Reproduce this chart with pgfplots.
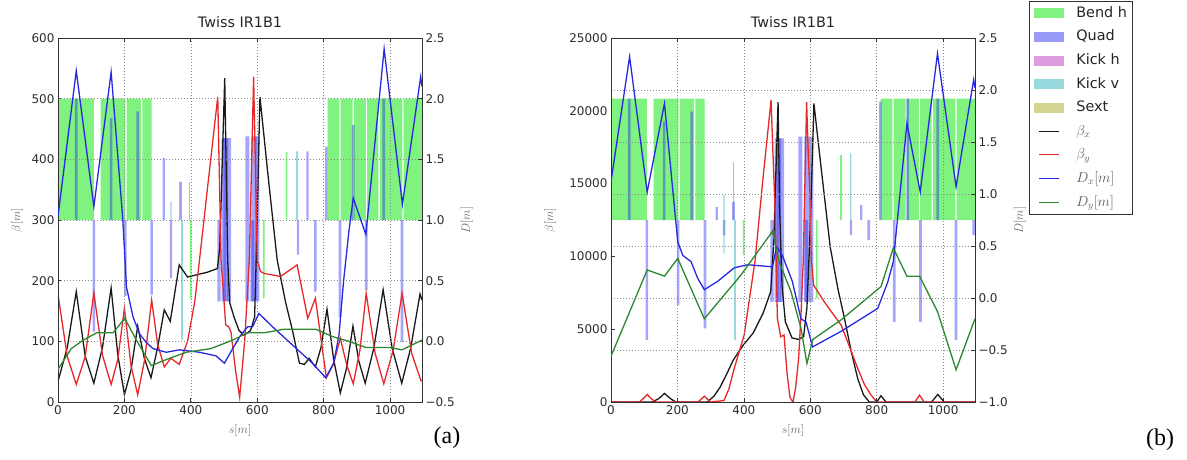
\documentclass[border=0pt]{standalone}
\usepackage{fontspec}
\setmainfont{DejaVu Sans}
\newfontfamily\tnr{Liberation Serif}
\usepackage{pgfplots}
\pgfplotsset{compat=1.18}

\definecolor{bendc}{RGB}{128,242,128}
\definecolor{quadc}{RGB}{30,30,245}
\definecolor{kickhc}{RGB}{190,60,190}
\definecolor{kickvc}{RGB}{50,180,190}
\definecolor{sextc}{RGB}{170,170,40}
\definecolor{bxc}{RGB}{25,25,25}
\definecolor{byc}{RGB}{232,40,40}
\definecolor{dxc}{RGB}{40,40,225}
\definecolor{dyc}{RGB}{45,135,45}
\definecolor{spine}{RGB}{50,50,50}
\definecolor{tlc}{RGB}{45,45,45}
\definecolor{lblc}{RGB}{100,100,100}

\pgfplotsset{
  twissbase/.style={
    scale only axis, width=364pt, height=364pt,
    xmin=0, xmax=1096, scaled x ticks=false, scaled y ticks=false,
    tick align=inside, major tick length=4pt,
    axis line style={spine, line width=0.9pt},
    every tick/.style={spine, line width=0.7pt},
    tick label style={font=\fontsize{12}{12}\selectfont, text=tlc},
  },
  leftax/.style={twissbase,
    xtick={0,200,400,600,800,1000}, xticklabels={0,200,400,600,800,1000},
    xtick pos=both, xticklabel pos=left, ytick pos=left, yticklabel pos=left,
    xlabel={$s[m]$},
    every axis x label/.style={at={(axis description cs:0.5,-0.077)}, anchor=center, font=\fontsize{13}{13}\selectfont, text=lblc},
    title={Twiss IR1B1},
    title style={font=\fontsize{14.4}{14.4}\selectfont, text=black!85, at={(0.5,1)}, anchor=base, yshift=5pt, inner sep=0pt},
    ylabel={$\beta[m]$},
  },
  rightax/.style={twissbase,
    xtick={0,200,400,600,800,1000}, xticklabels={},
    ytick pos=right, yticklabel pos=right,
    xmajorgrids, ymajorgrids,
    grid style={dash pattern=on 1pt off 2pt, black!45, line width=0.6pt},
    ylabel={$D[m]$},
  },
  ylab/.style={every axis y label/.style={at={(axis description cs:#1,0.5)}, rotate=90, anchor=center, font=\fontsize{13}{13}\selectfont, text=lblc}},
  bendst/.style={fill=bendc, draw=none, unbounded coords=jump, forget plot},
  quadst/.style={fill=quadc, fill opacity=0.4, draw=none, unbounded coords=jump, forget plot},
  kickhst/.style={fill=kickhc, fill opacity=0.5, draw=none, unbounded coords=jump, forget plot},
  kickvst/.style={fill=kickvc, fill opacity=0.5, draw=none, unbounded coords=jump, forget plot},
  bxst/.style={bxc, line width=1.3pt, forget plot},
  byst/.style={byc, line width=1.3pt, forget plot},
  dxst/.style={dxc, line width=1.3pt, forget plot},
  dyst/.style={dyc, line width=1.3pt, forget plot},
}

\begin{document}
\begin{tikzpicture}
\path[use as bounding box] (0pt,0pt) rectangle (1187pt,-459pt);

%================ PANEL (a) =================
\begin{axis}[leftax, at={(58pt,-402pt)}, anchor=south west,
  ymin=0, ymax=600, ytick={0,100,200,300,400,500,600},
  yticklabels={0,100,200,300,400,500,600}, ylab=-0.1126]
% Bend h
\addplot[bendst] coordinates {
(0,300) (108,300) (108,500) (0,500) (0,nan)
(128,300) (203,300) (203,500) (128,500) (128,nan)
(207,300) (250,300) (250,500) (207,500) (207,nan)
(254,300) (282,300) (282,500) (254,500) (254,nan)
(812,300) (847,300) (847,500) (812,500) (812,nan)
(851,300) (887,300) (887,500) (851,500) (851,nan)
(891,300) (927,300) (927,500) (891,500) (891,nan)
(931,300) (965,300) (965,500) (931,500) (931,nan)
(969,300) (1037,300) (1037,500) (969,500) (969,nan)
(1041,300) (1096,300) (1096,500) (1041,500) (1041,nan)
(397,170) (402,170) (402,300) (397,300) (397,nan)
(617,171) (622,171) (622,300) (617,300) (617,nan)
(686,300) (691,300) (691,412) (686,412)
};
% Quad
\addplot[quadst] coordinates {
(51,300) (59,300) (59,500) (51,500) (51,nan)
(104,116) (112,116) (112,300) (104,300) (104,nan)
(156,300) (164,300) (164,468) (156,468) (156,nan)
(199,175) (207,175) (207,300) (199,300) (199,nan)
(236,300) (244,300) (244,479) (236,479) (236,nan)
(278,177) (286,177) (286,300) (278,300) (278,nan)
(315,300) (322,300) (322,402) (315,402) (315,nan)
(337,204) (344,204) (344,300) (337,300) (337,nan)
(365,300) (373,300) (373,363) (365,363) (365,nan)
(480,166) (490,166) (490,300) (480,300) (480,nan)
(493,166) (507,166) (507,435) (493,435) (493,nan)
(509,166) (521,166) (521,435) (509,435) (509,nan)
(564,166) (576,166) (576,438) (564,438) (564,nan)
(579,166) (591,166) (591,300) (579,300) (579,nan)
(594,166) (606,166) (606,438) (594,438) (594,nan)
(719,243) (726,243) (726,300) (719,300) (719,nan)
(748,300) (755,300) (755,413) (748,413) (748,nan)
(771,182) (779,182) (779,300) (771,300) (771,nan)
(804,300) (812,300) (812,421) (804,421) (804,nan)
(845,140) (853,140) (853,300) (845,300) (845,nan)
(885,300) (893,300) (893,457) (885,457) (885,nan)
(924,185) (932,185) (932,300) (924,300) (924,nan)
(977,300) (985,300) (985,500) (977,500) (977,nan)
(1032,99) (1040,99) (1040,300) (1032,300)
};
\addplot[quadst] coordinates {
(498,166) (512,166) (512,435) (498,435) (498,nan)
(582,166) (598,166) (598,438) (582,438)
};
% Kick h
\addplot[kickhst] coordinates {(393,300) (398,300) (398,363) (393,363)};
% Kick v
\addplot[kickvst] coordinates {
(338,300) (342,300) (342,330) (338,330) (338,nan)
(371,103) (376,103) (376,300) (371,300) (371,nan)
(717,300) (722,300) (722,413) (717,413)
};
% beta x
\addplot[bxst] coordinates {
(0,34) (28,90) (55,182) (82,75) (108,31) (134,90) (160,188) (180,78) (200,12)
(220,53) (240,125) (260,72) (280,40) (300,90) (320,152) (338,133) (365,226)
(390,206) (420,210) (450,214) (480,220) (487,254) (502,534) (511,234) (517,164)
(530,140) (545,118) (560,110) (580,118) (592,140) (598,260) (608,503) (635,360)
(660,234) (685,165) (706,118) (727,64) (742,62) (756,72) (775,58) (792,90)
(810,153) (830,70) (850,15) (869,56) (888,125) (906,67) (925,31) (951,89)
(979,185) (1006,89) (1035,31) (1062,89) (1090,178) (1096,168)
};
% beta y
\addplot[byst] coordinates {
(0,177) (28,75) (55,29) (82,75) (108,180) (134,77) (160,29) (180,70) (200,155)
(220,59) (240,12) (261,70) (282,168) (300,95) (320,58) (340,72) (365,62)
(390,100) (412,166) (426,234) (450,352) (481,503) (491,234) (505,127) (514,124)
(521,115) (535,50) (547,8) (562,100) (576,233) (589,536) (600,233) (610,215)
(620,212) (670,207) (720,226) (752,138) (775,171) (808,40) (829,62) (850,105)
(870,60) (889,30) (909,85) (928,179) (955,80) (981,30) (1009,85) (1036,179)
(1065,80) (1093,35) (1096,36)
};
\end{axis}

\begin{axis}[rightax, at={(58pt,-402pt)}, anchor=south west,
  ymin=-0.5, ymax=2.5, ytick={-0.5,0,0.5,1,1.5,2,2.5},
  yticklabels={−0.5,0.0,0.5,1.0,1.5,2.0,2.5}, ylab=1.1236]
\addplot[dxst] coordinates {
(0,1.03) (55,2.23) (108,1.11) (160,2.22) (195,1.01) (206,0.45) (226,0.20)
(246,0.06) (266,-0.01) (286,-0.06) (326,-0.09) (366,-0.07) (426,-0.09)
(476,-0.12) (501,-0.18) (526,-0.06) (550,0.05) (571,0.12) (586,0.12) (605,0.23)
(646,0.12) (706,-0.03) (766,-0.18) (806,-0.30) (830,-0.18) (846,0.05) (860,0.5)
(876,0.91) (889,1.18) (927,0.88) (982,2.41) (1037,1.13) (1092,2.18) (1096,2.1)
};
\addplot[dyst] coordinates {
(0,-0.23) (40,-0.06) (76,0.01) (116,0.07) (166,0.07) (201,0.19) (236,0.01)
(281,-0.2) (326,-0.15) (386,-0.09) (460,-0.06) (526,0.01) (570,0.07) (620,0.07)
(680,0.10) (726,0.10) (776,0.10) (826,0.04) (876,0.0) (926,-0.05) (996,-0.05)
(1036,-0.07) (1096,0.01)
};
\end{axis}

%================ PANEL (b) =================
\begin{axis}[leftax, at={(611pt,-402pt)}, anchor=south west,
  ymin=0, ymax=25000, ytick={0,5000,10000,15000,20000,25000},
  yticklabels={0,5000,10000,15000,20000,25000}, ylab=-0.167]
\addplot[bendst] coordinates {
(0,12500) (108,12500) (108,20833) (0,20833) (0,nan)
(128,12500) (203,12500) (203,20833) (128,20833) (128,nan)
(207,12500) (250,12500) (250,20833) (207,20833) (207,nan)
(254,12500) (282,12500) (282,20833) (254,20833) (254,nan)
(812,12500) (847,12500) (847,20833) (812,20833) (812,nan)
(851,12500) (887,12500) (887,20833) (851,20833) (851,nan)
(891,12500) (927,12500) (927,20833) (891,20833) (891,nan)
(931,12500) (965,12500) (965,20833) (931,20833) (931,nan)
(969,12500) (1037,12500) (1037,20833) (969,20833) (969,nan)
(1041,12500) (1096,12500) (1096,20833) (1041,20833) (1041,nan)
(397,10090) (402,10090) (402,12500) (397,12500) (397,nan)
(617,7115) (622,7115) (622,12500) (617,12500) (617,nan)
(690,12500) (695,12500) (695,16960) (690,16960)
};
\addplot[quadst] coordinates {
(51,12500) (59,12500) (59,20833) (51,20833) (51,nan)
(104,4250) (112,4250) (112,12500) (104,12500) (104,nan)
(156,12500) (164,12500) (164,19250) (156,19250) (156,nan)
(198,6660) (206,6660) (206,12500) (198,12500) (198,nan)
(239,12500) (247,12500) (247,19940) (239,19940) (239,nan)
(279,5050) (287,5050) (287,12500) (279,12500) (279,nan)
(315,12500) (322,12500) (322,13410) (315,13410) (315,nan)
(337,11470) (344,11470) (344,12500) (337,12500) (337,nan)
(365,12500) (373,12500) (373,13750) (365,13750) (365,nan)
(480,6880) (490,6880) (490,12500) (480,12500) (480,nan)
(493,6880) (507,6880) (507,18100) (493,18100) (493,nan)
(509,6880) (521,6880) (521,18100) (509,18100) (509,nan)
(564,6880) (576,6880) (576,18220) (564,18220) (564,nan)
(582,6880) (593,6880) (593,12500) (582,12500) (582,nan)
(597,6880) (609,6880) (609,18220) (597,18220) (597,nan)
(719,11470) (726,11470) (726,12500) (719,12500) (719,nan)
(750,12500) (757,12500) (757,13530) (750,13530) (750,nan)
(772,11120) (780,11120) (780,12500) (772,12500) (772,nan)
(807,12500) (815,12500) (815,20630) (807,20630) (807,nan)
(849,5510) (857,5510) (857,12500) (849,12500) (849,nan)
(889,12500) (897,12500) (897,20833) (889,20833) (889,nan)
(928,5510) (936,5510) (936,12500) (928,12500) (928,nan)
(980,12500) (988,12500) (988,20833) (980,20833) (980,nan)
(1035,4250) (1043,4250) (1043,12500) (1035,12500) (1035,nan)
(1088,11470) (1096,11470) (1096,12500) (1088,12500)
};
\addplot[quadst] coordinates {
(498,6880) (512,6880) (512,18100) (498,18100) (498,nan)
(582,6880) (598,6880) (598,18220) (582,18220)
};
\addplot[kickhst] coordinates {(366,12500) (370,12500) (370,16500) (366,16500)};
\addplot[kickvst] coordinates {
(338,10200) (342,10200) (342,14210) (338,14210) (338,nan)
(371,4250) (376,4250) (376,12500) (371,12500) (371,nan)
(720,12500) (724,12500) (724,17080) (720,17080)
};
\addplot[bxst] coordinates {
(0,0) (125,0) (145,250) (161,590) (178,250) (195,0) (290,0) (310,400) (328,1000)
(348,1900) (368,2880) (398,3900) (428,4740) (458,6100) (481,7600) (490,11000)
(503,20600) (508,13000) (515,8000) (525,5500) (545,4400) (565,4300) (580,4500)
(590,6500) (600,12000) (611,20500) (630,16620) (660,10650) (683,7800) (703,5740)
(723,3500) (743,1600) (760,500) (778,0) (800,0) (813,430) (828,0) (965,0)
(984,520) (1003,0) (1096,0)
};
\addplot[byst] coordinates {
(0,0) (85,0) (98,250) (109,520) (120,250) (135,0) (262,0) (281,400) (300,0)
(340,100) (355,900) (371,2300) (401,4600) (434,9750) (458,15450) (482,20740)
(487,17500) (494,13190) (501,5740) (511,4480) (521,4600) (530,2000) (539,300)
(548,0) (556,1000) (565,3000) (572,6000) (579,9750) (589,20600) (594,17000)
(599,14350) (603,9750) (610,8030) (642,6880) (693,5280) (718,3800) (743,2300)
(763,1200) (783,480) (800,0) (915,0) (929,470) (943,0) (1096,0)
};
\end{axis}

\begin{axis}[rightax, at={(611pt,-402pt)}, anchor=south west,
  ymin=-1, ymax=2.5, ytick={-1,-0.5,0,0.5,1,1.5,2,2.5},
  yticklabels={−1.0,−0.5,0.0,0.5,1.0,1.5,2.0,2.5}, ylab=1.1233,
  legend style={at={(1,1)}, anchor=north west, xshift=54pt, yshift=37pt,
    draw=spine, line width=0.7pt, fill=white,
    font=\fontsize{14.4}{14.4}\selectfont,
    inner xsep=5pt, inner ysep=5pt, row sep=9.6pt, column sep=12pt,
    nodes={inner sep=0pt, text height=11pt, text depth=3pt, text=black!85}},
  legend cell align=left]
\addlegendimage{legend image code/.code={\fill[bendc,draw=none] (0pt,-5pt) rectangle (30pt,5pt);}}
\addlegendimage{legend image code/.code={\fill[quadc,fill opacity=0.45,draw=none] (0pt,-5pt) rectangle (30pt,5pt);}}
\addlegendimage{legend image code/.code={\fill[kickhc,fill opacity=0.5,draw=none] (0pt,-5pt) rectangle (30pt,5pt);}}
\addlegendimage{legend image code/.code={\fill[kickvc,fill opacity=0.5,draw=none] (0pt,-5pt) rectangle (30pt,5pt);}}
\addlegendimage{legend image code/.code={\fill[sextc,fill opacity=0.5,draw=none] (0pt,-5pt) rectangle (30pt,5pt);}}
\addlegendimage{legend image code/.code={\draw[bxc,line width=1pt] (5pt,0pt) -- (25pt,0pt);}}
\addlegendimage{legend image code/.code={\draw[byc,line width=1pt] (5pt,0pt) -- (25pt,0pt);}}
\addlegendimage{legend image code/.code={\draw[dxc,line width=1pt] (5pt,0pt) -- (25pt,0pt);}}
\addlegendimage{legend image code/.code={\draw[dyc,line width=1pt] (5pt,0pt) -- (25pt,0pt);}}
\addplot[dxst] coordinates {
(0,1.12) (56,2.32) (109,1.02) (161,1.87) (201,0.54) (216,0.41) (241,0.35)
(261,0.19) (281,0.08) (321,0.16) (371,0.29) (411,0.32) (486,0.30) (499,0.49)
(516,0.41) (546,0.16) (572,-0.20) (587,-0.23) (607,-0.47) (693,-0.32)
(803,-0.10) (833,0.15) (850,0.35) (891,1.68) (931,1.02) (983,2.35) (1039,1.07)
(1092,2.10) (1096,2.02)
};
\addplot[dyst] coordinates {
(0,-0.56) (109,0.27) (161,0.21) (201,0.38) (281,-0.20) (391,0.22) (486,0.64)
(506,0.35) (542,0.06) (572,-0.29) (590,-0.63) (607,-0.40) (693,-0.21) (813,0.11)
(850,0.48) (891,0.21) (929,0.21) (983,-0.13) (1039,-0.69) (1096,-0.20)
};
\legend{Bend h, Quad, Kick h, Kick v, Sext,
  {\color{black!65}$\beta_x$}, {\color{black!65}$\beta_y$},
  {\color{black!65}$D_x[m]$}, {\color{black!65}$D_y[m]$}}
\end{axis}

\node[font=\tnr\fontsize{24}{24}\selectfont] at (447pt,-438pt) {(a)};
\node[font=\tnr\fontsize{24}{24}\selectfont] at (1160pt,-440pt) {(b)};
\end{tikzpicture}
\end{document}
